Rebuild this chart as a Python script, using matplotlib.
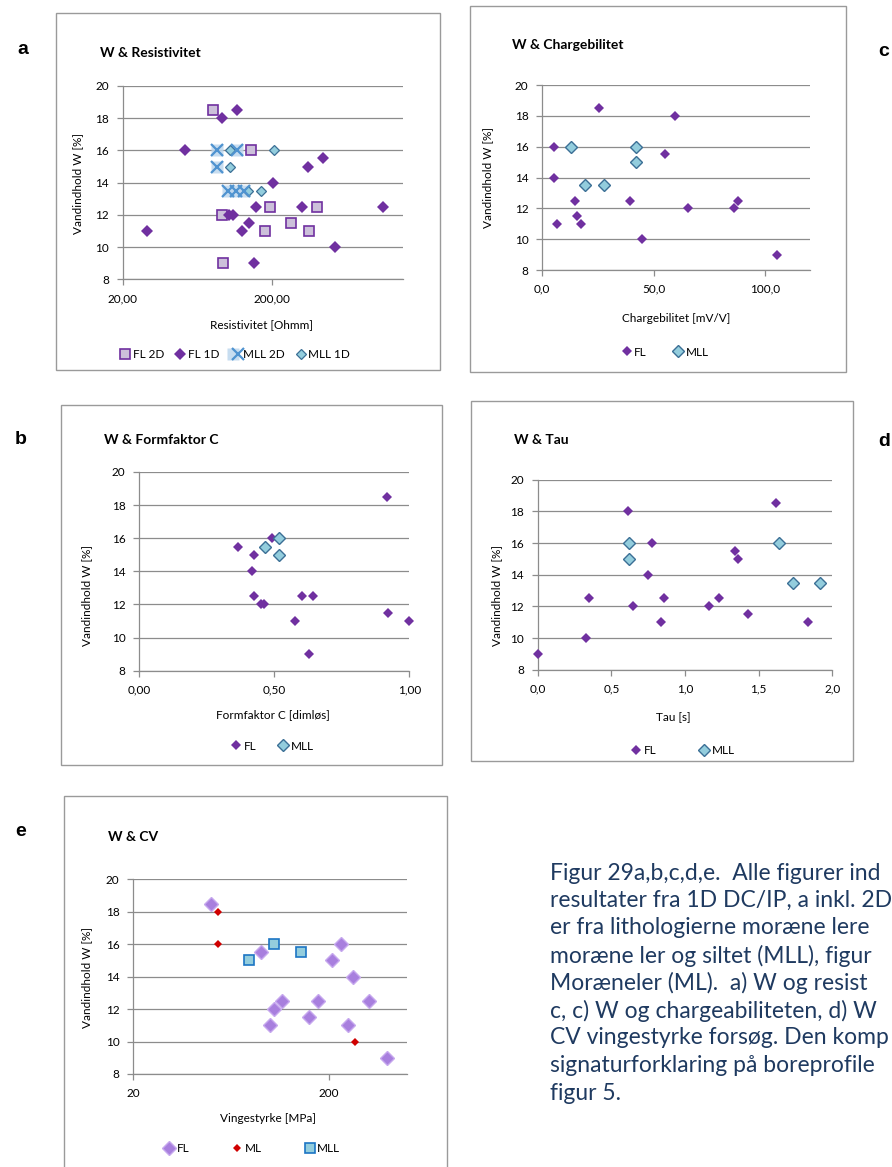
import matplotlib
matplotlib.use("Agg")
import matplotlib.pyplot as plt
from matplotlib.patches import Rectangle
from matplotlib.ticker import NullLocator
from matplotlib.legend_handler import HandlerTuple

# ---------------- data ----------------
w_ticks = [8, 10, 12, 14, 16, 18, 20]

# a) W & Resistivitet (log x)
res_fl2d_x = [80, 93, 94, 145, 194, 178, 268, 350, 398]
res_fl2d_w = [18.5, 12, 9, 16, 12.5, 11, 11.5, 11, 12.5]
res_fl1d_x = [29, 52, 93, 116, 103, 109, 125, 141, 156, 152, 204, 348, 440, 318, 530, 1110]
res_fl1d_w = [11, 16, 18, 18.5, 12, 12, 11, 11.5, 12.5, 9, 14, 15, 15.5, 12.5, 10, 12.5]
res_mll2d_x = [85, 116, 85, 101, 114, 130]
res_mll2d_w = [16, 16, 15, 13.5, 13.5, 13.5]
res_mll1d_x = [105, 207, 104, 137, 169]
res_mll1d_w = [16, 16, 15, 13.5, 13.5]
res_xticks = [20, 200]
res_xlabels = ["20,00", "200,00"]

# c) W & Chargebilitet
chg_fl_x = [5.1, 5.1, 6.6, 14.7, 15.4, 17.4, 25.5, 39.5, 44.5, 55.1, 59.7, 65.1, 86.0, 87.6, 105.0]
chg_fl_w = [16, 14, 11, 12.5, 11.5, 11, 18.5, 12.5, 10, 15.5, 18, 12, 12, 12.5, 9]
chg_mll_x = [13.0, 41.9, 41.9, 19.2, 27.8]
chg_mll_w = [16, 16, 15, 13.5, 13.5]
chg_xticks = [0, 50, 100]
chg_xlabels = ["0,0", "50,0", "100,0"]

# b) W & Formfaktor C
ff_fl_x = [0.916, 0.364, 0.426, 0.416, 0.492, 0.426, 0.452, 0.462, 0.604, 0.643, 0.575, 0.627, 0.922, 1.0]
ff_fl_w = [18.5, 15.5, 15, 14, 16, 12.5, 12, 12, 12.5, 12.5, 11, 9, 11.5, 11]
ff_mll_x = [0.464, 0.519, 0.519]
ff_mll_w = [15.5, 16, 15]
ff_xticks = [0, 0.5, 1.0]
ff_xlabels = ["0,00", "0,50", "1,00"]

# d) W & Tau
tau_fl_x = [0.0, 0.327, 0.347, 0.616, 0.65, 0.75, 0.776, 0.837, 0.857, 1.161, 1.233, 1.338, 1.358, 1.429, 1.619, 1.834]
tau_fl_w = [9, 10, 12.5, 18, 12, 14, 16, 11, 12.5, 12, 12.5, 15.5, 15, 11.5, 18.5, 11]
tau_mll_x = [0.623, 0.623, 1.635, 1.730, 1.914]
tau_mll_w = [16, 15, 16, 13.5, 13.5]
tau_xticks = [0, 0.5, 1.0, 1.5, 2.0]
tau_xlabels = ["0,0", "0,5", "1,0", "1,5", "2,0"]

# e) W & CV (log x)
cv_fl_x = [50, 90, 100, 104.5, 115, 158, 177, 208, 232, 250, 265, 321, 398]
cv_fl_w = [18.5, 15.5, 11, 12, 12.5, 11.5, 12.5, 15, 16, 11, 14, 12.5, 9]
cv_ml_x = [54, 54, 272]
cv_ml_w = [18, 16, 10]
cv_mll_x = [78, 104.5, 144]
cv_mll_w = [15, 16, 15.5]
cv_xticks = [20, 200]
cv_xlabels = ["20", "200"]

caption_lines = [
    "Figur 29a,b,c,d,e.  Alle figurer ind",
    "resultater fra 1D DC/IP, a inkl. 2D",
    "er fra lithologierne moræne lere",
    "moræne ler og siltet (MLL), figur",
    "Moræneler (ML).  a) W og resist",
    "c, c) W og chargeabiliteten, d) W",
    "CV vingestyrke forsøg. Den komp",
    "signaturforklaring på boreprofile",
    "figur 5.",
]

# ---------------- style ----------------
plt.rcParams['font.family'] = ['Lato', 'DejaVu Sans']
W, H = 892, 1167
GRID = '#8c8c8c'
FRAME = '#9a9a9a'
PURPLE = '#7030A0'
LAV = '#CCC0DA'
AQUA = '#93CDDD'
AQUA_EDGE = '#3B6F95'
TICK_FS = 8.5
LABEL_FS = 8.5

fig = plt.figure(figsize=(W / 100, H / 100), dpi=100)


def fx(px):
    return px / W


def fy(py):
    return 1 - py / H


def frame(x0, y0, x1, y1):
    fig.add_artist(Rectangle((fx(x0), fy(y1)), fx(x1) - fx(x0), fy(y0) - fy(y1),
                             transform=fig.transFigure, fill=False,
                             ec=FRAME, lw=1.0, clip_on=False))


def make_axes(x0, y0, x1, y1, xlim, xticks, xlabels, log=False):
    ax = fig.add_axes([fx(x0), fy(y1), fx(x1) - fx(x0), fy(y0) - fy(y1)])
    if log:
        ax.set_xscale('log')
    ax.set_xlim(*xlim)
    ax.set_ylim(8, 20)
    ax.set_yticks(w_ticks)
    ax.set_yticklabels([str(t) for t in w_ticks])
    ax.set_xticks(xticks)
    ax.set_xticklabels(xlabels)
    ax.xaxis.set_minor_locator(NullLocator())
    ax.yaxis.grid(True, color=GRID, lw=0.9)
    ax.set_axisbelow(True)
    for s in ('top', 'right'):
        ax.spines[s].set_visible(False)
    for s in ('left', 'bottom'):
        ax.spines[s].set_color(GRID)
        ax.spines[s].set_linewidth(0.9)
    ax.tick_params(axis='both', color=GRID, length=4, width=0.9,
                   labelsize=TICK_FS, pad=6)
    ax.patch.set_alpha(0)
    return ax


def decorate(ax, title, tpos, xlabel, xlpos, ylpos):
    fig.text(fx(tpos[0]), fy(tpos[1]), title, fontsize=10, fontweight='bold',
             ha='left', va='center')
    ax.set_xlabel(xlabel, fontsize=LABEL_FS)
    ax.xaxis.set_label_coords(fx(xlpos[0]), fy(xlpos[1]), transform=fig.transFigure)
    ax.xaxis.label.set_va('center')
    ax.set_ylabel("Vandindhold W [%]", fontsize=LABEL_FS)
    ax.yaxis.set_label_coords(fx(ylpos[0]), fy(ylpos[1]), transform=fig.transFigure)
    ax.yaxis.label.set_va('center')


def legend(ax, handles, labels, center, colsp):
    ax.legend(handles, labels, loc='center', ncol=len(handles),
              bbox_to_anchor=(fx(center[0]), fy(center[1])),
              bbox_transform=fig.transFigure, frameon=False,
              fontsize=LABEL_FS, handlelength=0.9, handletextpad=0.2,
              columnspacing=colsp, borderaxespad=0, borderpad=0,
              handler_map={tuple: HandlerTuple(ndivide=None)})


def diamonds(ax, x, y, ms, fc, ec=None, mew=0.0):
    return ax.plot(x, y, 'D', ms=ms, mfc=fc, mec=ec if ec else fc, mew=mew,
                   ls='none', clip_on=False, zorder=3)[0]


# ---------------- a) W & Resistivitet ----------------
frame(56, 13, 440, 370)
ax = make_axes(122.7, 86, 403, 279.3, (20, 1500), res_xticks, res_xlabels, log=True)
h_fl2d = ax.plot(res_fl2d_x, res_fl2d_w, 's', ms=7, mfc=LAV, mec=PURPLE, mew=1.2,
                 ls='none', clip_on=False, zorder=3)[0]
h_fl1d = diamonds(ax, res_fl1d_x, res_fl1d_w, 6.2, PURPLE)
h_bg = ax.plot(res_mll2d_x, res_mll2d_w, 's', ms=8.5, mfc='#BDD7EE', mec='none',
               alpha=0.85, ls='none', clip_on=False, zorder=3)[0]
h_x = ax.plot(res_mll2d_x, res_mll2d_w, 'x', ms=8, mec='#4F93D0', mew=1.6,
              ls='none', clip_on=False, zorder=4)[0]
h_mll1d = diamonds(ax, res_mll1d_x, res_mll1d_w, 5.0, AQUA, AQUA_EDGE, 0.9)
decorate(ax, "W & Resistivitet", (100, 53), "Resistivitet [Ohmm]", (262, 325), (78, 183))
legend(ax, [h_fl2d, h_fl1d, (h_bg, h_x), h_mll1d],
       ["FL 2D", "FL 1D", "MLL 2D", "MLL 1D"], (235, 355), 0.9)
fig.text(fx(23), fy(50), "a", fontsize=14, fontweight='bold',
         family=['Liberation Sans', 'DejaVu Sans'], ha='center', va='center')

# ---------------- c) W & Chargebilitet ----------------
frame(470, 6, 846, 372)
ax = make_axes(542.3, 85, 810, 270, (0, 120), chg_xticks, chg_xlabels)
h1 = diamonds(ax, chg_fl_x, chg_fl_w, 4.8, PURPLE)
h2 = diamonds(ax, chg_mll_x, chg_mll_w, 6.6, AQUA, AQUA_EDGE, 1.0)
decorate(ax, "W & Chargebilitet", (512, 45), "Chargebilitet [mV/V]", (676, 318), (488, 177))
legend(ax, [h1, h2], ["FL", "MLL"], (665, 352), 2.2)
fig.text(fx(884), fy(52), "c", fontsize=14, fontweight='bold',
         family=['Liberation Sans', 'DejaVu Sans'], ha='center', va='center')

# ---------------- b) W & Formfaktor C ----------------
frame(61, 405, 442, 765)
ax = make_axes(139.3, 472, 409.3, 670.7, (0, 1.0), ff_xticks, ff_xlabels)
h1 = diamonds(ax, ff_fl_x, ff_fl_w, 5.0, PURPLE)
h2 = diamonds(ax, ff_mll_x, ff_mll_w, 6.6, AQUA, AQUA_EDGE, 1.0)
decorate(ax, "W & Formfaktor C", (104, 440), "Formfaktor C [dimløs]", (273, 715), (87, 595))
legend(ax, [h1, h2], ["FL", "MLL"], (272, 746), 1.8)
fig.text(fx(21), fy(440), "b", fontsize=14, fontweight='bold',
         family=['Liberation Sans', 'DejaVu Sans'], ha='center', va='center')

# ---------------- d) W & Tau ----------------
frame(471, 401, 853, 761)
ax = make_axes(537.7, 479.7, 832.3, 669.7, (0, 2.0), tau_xticks, tau_xlabels)
h1 = diamonds(ax, tau_fl_x, tau_fl_w, 5.0, PURPLE)
h2 = diamonds(ax, tau_mll_x, tau_mll_w, 6.6, AQUA, AQUA_EDGE, 1.0)
decorate(ax, "W & Tau", (514, 440), "Tau [s]", (673, 718), (497, 595))
legend(ax, [h1, h2], ["FL", "MLL"], (683, 751), 3.6)
fig.text(fx(884), fy(441), "d", fontsize=14, fontweight='bold',
         family=['Liberation Sans', 'DejaVu Sans'], ha='center', va='center')

# ---------------- e) W & CV ----------------
frame(64, 796, 447, 1180)
ax = make_axes(133.3, 879.3, 406.7, 1074, (20, 500), cv_xticks, cv_xlabels, log=True)
h1 = diamonds(ax, cv_fl_x, cv_fl_w, 6.8, '#A87FDE', '#C6A8EE', 1.0)
h2 = diamonds(ax, cv_ml_x, cv_ml_w, 4.4, '#D00000')
h3 = ax.plot(cv_mll_x, cv_mll_w, 's', ms=7.5, mfc=AQUA, mec='#1C75C4', mew=1.2,
             ls='none', clip_on=False, zorder=3)[0]
decorate(ax, "W & CV", (108, 837), "Vingestyrke [MPa]", (268, 1119), (87, 977))
legend(ax, [h1, h2, h3], ["FL", "ML", "MLL"], (252, 1149), 3.6)
fig.text(fx(21), fy(832), "e", fontsize=14, fontweight='bold',
         family=['Liberation Sans', 'DejaVu Sans'], ha='center', va='center')

# ---------------- caption ----------------
for i, line in enumerate(caption_lines):
    fig.text(fx(550), fy(873 + i * 27.5), line, fontsize=16.5, color='#1F3A60',
             ha='left', va='center')

fig.savefig("out.png", dpi=100)
